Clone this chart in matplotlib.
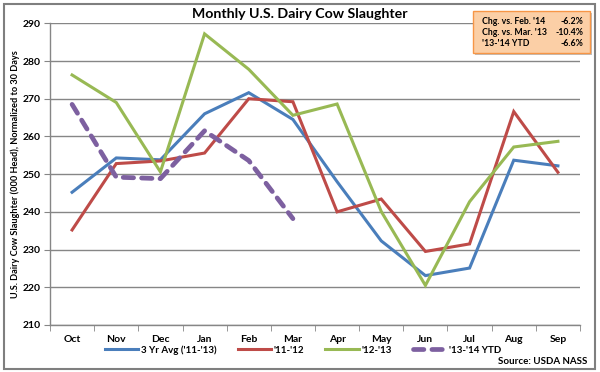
import matplotlib
matplotlib.use("Agg")
import matplotlib.pyplot as plt
from matplotlib.patches import Rectangle

plt.rcParams['font.family'] = ['Lato', 'DejaVu Sans']

months = ["Oct", "Nov", "Dec", "Jan", "Feb", "Mar", "Apr", "May", "Jun", "Jul", "Aug", "Sep"]
avg_3yr = [245.2, 254.3, 253.8, 266.0, 271.6, 264.5, 248.0, 232.3, 223.1, 225.1, 253.7, 252.2]
y_11_12 = [235.2, 252.8, 253.5, 255.6, 270.0, 269.2, 240.0, 243.4, 229.5, 231.5, 266.6, 250.5]
y_12_13 = [276.3, 269.0, 250.6, 287.2, 277.8, 265.6, 268.6, 240.1, 220.5, 242.7, 257.2, 258.7]
y_13_14 = [268.5, 249.2, 248.8, 261.5, 253.6, 238.2]

series_names = ["3 Yr Avg ('11-'13)", "'11-'12", "'12-'13", "'13-'14 YTD"]
colors = ["#4A7EBB", "#BE4B48", "#98B954", "#7D60A0"]

box_labels = ["Chg. vs. Feb. '14", "Chg. vs. Mar. '13", "'13-'14 YTD"]
box_values = ["-6.2%", "-10.4%", "-6.6%"]

fig = plt.figure(figsize=(6.0, 3.72), dpi=100)
# outer chart border
fig.patches.append(Rectangle((4/600, 3/372), 591/600, 365/372, transform=fig.transFigure,
                             fill=False, edgecolor="#7F7F7F", linewidth=1.5))

ax = fig.add_axes([50/600, 1-325/372, 530/600, (325-23.3)/372])
x = list(range(len(months)))
ax.plot(x, avg_3yr, color=colors[0], lw=2.2, label=series_names[0], solid_joinstyle='miter')
ax.plot(x, y_11_12, color=colors[1], lw=2.2, label=series_names[1], solid_joinstyle='miter')
ax.plot(x, y_12_13, color=colors[2], lw=2.2, label=series_names[2], solid_joinstyle='miter')
ax.plot(x[:len(y_13_14)], y_13_14, color=colors[3], lw=3.4, label=series_names[3],
        linestyle=(0, (2.2, 1.7)), dash_capstyle='round')

ax.set_xlim(-0.5, 11.5)
ax.set_ylim(210, 290)
ax.set_yticks(range(210, 291, 10))
ax.set_xticks(x)
ax.set_xticklabels(months)
ax.set_xticks([i - 0.5 for i in range(13)], minor=True)
ax.tick_params(axis='x', which='major', length=0, pad=7)
ax.tick_params(axis='x', which='minor', length=4, color="#868686", direction='out')
ax.tick_params(axis='y', length=4, color="#868686", direction='out', pad=3)
for lab in ax.get_xticklabels() + ax.get_yticklabels():
    lab.set_fontsize(7.5)
    lab.set_fontweight('bold')
ax.grid(axis='y', color="#868686", lw=1.0)
ax.set_axisbelow(True)
for s in ["top", "right"]:
    ax.spines[s].set_visible(False)
for s in ["left", "bottom"]:
    ax.spines[s].set_color("#868686")
    ax.spines[s].set_linewidth(1.0)

ax.set_ylabel("U.S. Dairy Cow Slaughter (000 Head), Normalized to 30 Days",
              fontsize=6.6, fontweight='bold')
ax.yaxis.set_label_coords(-0.056, 0.5)

fig.text(300/600, 1-14/372, "Monthly U.S. Dairy Cow Slaughter", ha='center', va='center',
         fontsize=10.2, fontweight='bold')

leg = fig.legend(loc='center', bbox_to_anchor=(303/600, 1-350/372), ncol=4, frameon=False,
                 handlelength=3.4, columnspacing=2.2, handletextpad=0.3,
                 prop={'weight': 'bold', 'size': 7.0})

fig.text(587/600, 1-361/372, "Source: USDA NASS", ha='right', va='center',
         fontsize=7.0, fontweight='bold')

# info box
bx0, by0, bw, bh = 473/600, 1-53/372, 117/600, 42/372
fig.patches.append(Rectangle((bx0+2/600, by0-2/372), bw, bh, transform=fig.transFigure,
                             facecolor="#BFBFBF", edgecolor='none', zorder=5))
fig.patches.append(Rectangle((bx0, by0), bw, bh, transform=fig.transFigure,
                             facecolor="#FBCFA6", edgecolor="#F79646", linewidth=1.0, zorder=6))
for i, (lab, val) in enumerate(zip(box_labels, box_values)):
    yy = 1 - (21 + i * 11.5) / 372
    fig.text(482/600, yy, lab, ha='left', va='center', fontsize=6.3, fontweight='bold', zorder=7)
    fig.text(583/600, yy, val, ha='right', va='center', fontsize=6.3, fontweight='bold', zorder=7)

fig.savefig("out.png", dpi=100)
